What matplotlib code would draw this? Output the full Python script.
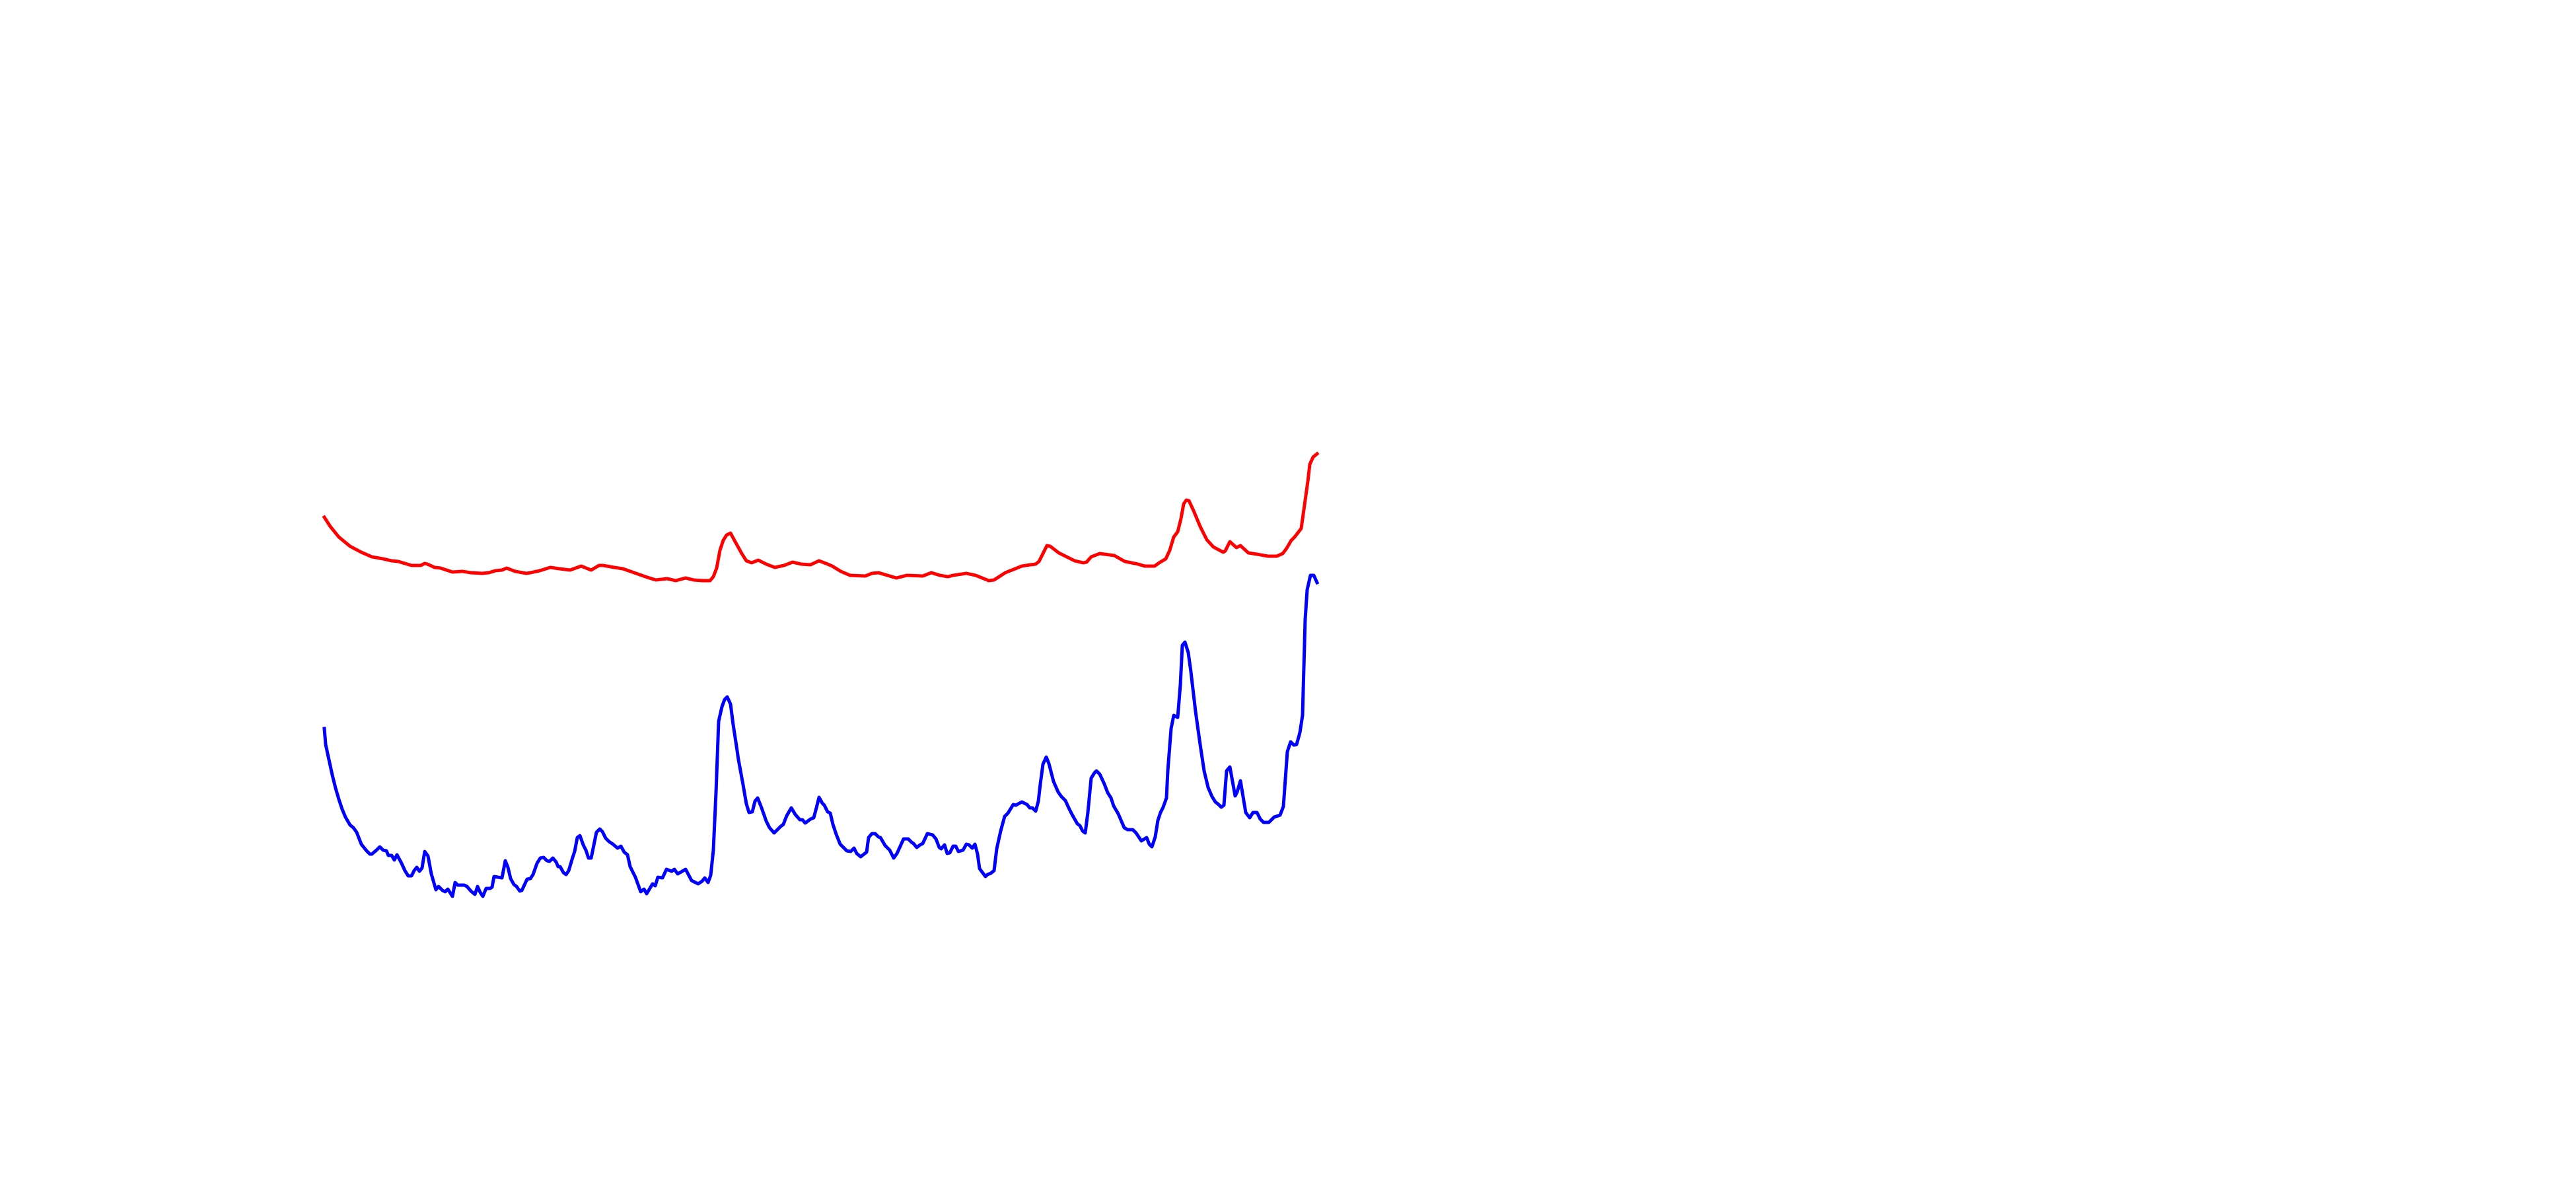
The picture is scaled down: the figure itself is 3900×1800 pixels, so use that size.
import matplotlib.pyplot as plt

# sample positions and values
red_x = [0, 9, 22, 39, 56, 72, 89, 102, 112, 132, 146, 152, 156, 167, 176, 194, 209, 222, 239, 249,
         259, 269, 276, 289, 306, 312, 326, 342, 356, 372, 389, 404, 416, 422, 439, 452, 472, 489, 502, 519,
         532, 547, 559, 572, 584, 589, 594, 599, 604, 609, 615, 622, 632, 639, 647, 657, 669, 682, 696, 709,
         722, 736, 749, 762, 769, 782, 796, 819, 829, 839, 866, 882, 906, 919, 932, 944, 952, 972, 986, 1006,
         1014, 1031, 1046, 1056, 1069, 1077, 1082, 1094, 1099, 1112, 1122, 1136, 1149, 1154, 1161, 1174, 1189, 1196, 1212, 1232,
         1242, 1257, 1264, 1274, 1280, 1286, 1292, 1297, 1301, 1305, 1309, 1316, 1326, 1336, 1346, 1361, 1364, 1371, 1381, 1387,
         1399, 1412, 1429, 1442, 1451, 1457, 1464, 1469, 1479, 1489, 1492, 1497, 1503]
red_y = [101.7, 100.3, 98.7, 97.3, 96.4, 95.7, 95.4, 95.1, 95.0, 94.4, 94.4, 94.7, 94.6, 94.1, 94.0, 93.4, 93.5, 93.3, 93.2, 93.3,
         93.6, 93.7, 94.0, 93.5, 93.2, 93.3, 93.6, 94.1, 93.9, 93.7, 94.3, 93.7, 94.4, 94.4, 94.1, 93.9, 93.2, 92.6, 92.2, 92.4,
         92.1, 92.5, 92.2, 92.1, 92.1, 92.7, 94.0, 96.7, 98.2, 99.0, 99.3, 98.0, 96.2, 95.1, 94.8, 95.2, 94.6, 94.1, 94.4, 94.9,
         94.6, 94.5, 95.1, 94.6, 94.3, 93.5, 92.9, 92.8, 93.2, 93.3, 92.5, 92.9, 92.8, 93.3, 92.9, 92.7, 92.9, 93.2, 92.9, 92.1,
         92.2, 93.3, 93.9, 94.3, 94.5, 94.6, 95.0, 97.4, 97.3, 96.3, 95.8, 95.1, 94.8, 94.9, 95.7, 96.2, 96.0, 95.9, 95.0, 94.6,
         94.3, 94.3, 94.8, 95.4, 96.7, 98.7, 99.5, 101.5, 103.7, 104.3, 104.2, 102.7, 100.3, 98.3, 97.2, 96.4, 96.6, 98.0, 97.1, 97.4,
         96.3, 96.1, 95.8, 95.8, 96.2, 97.0, 98.2, 98.7, 100.0, 107.1, 109.7, 110.8, 111.3]

blue_x = [0, 2, 7, 12, 17, 22, 27, 32, 39, 44, 49, 56, 64, 69, 72, 79, 84, 89, 94, 97,
          102, 106, 110, 117, 122, 127, 132, 136, 140, 144, 148, 152, 157, 162, 169, 173, 179, 183, 187, 194,
          198, 202, 212, 216, 222, 228, 232, 236, 240, 245, 251, 254, 257, 269, 274, 278, 282, 287, 291, 296,
          299, 307, 312, 316, 322, 327, 332, 337, 341, 346, 351, 354, 357, 362, 366, 370, 376, 379, 383, 387,
          392, 396, 400, 404, 412, 417, 421, 426, 431, 437, 444, 449, 454, 459, 463, 471, 479, 484, 488, 497,
          501, 505, 512, 518, 526, 530, 535, 547, 556, 566, 572, 576, 581, 585, 589, 593, 597, 602, 606, 610,
          615, 619, 623, 627, 634, 639, 643, 648, 652, 656, 662, 669, 674, 681, 691, 695, 700, 707, 713, 720,
          724, 728, 736, 741, 745, 749, 754, 757, 762, 766, 770, 775, 781, 791, 797, 802, 806, 812, 821, 824,
          829, 834, 839, 842, 849, 856, 862, 867, 877, 884, 889, 892, 897, 902, 906, 913, 921, 926, 931, 934,
          939, 943, 947, 952, 956, 960, 967, 972, 976, 981, 985, 989, 992, 1001, 1004, 1009, 1014, 1018, 1024, 1030,
          1035, 1043, 1047, 1056, 1064, 1068, 1072, 1077, 1081, 1084, 1088, 1093, 1097, 1104, 1111, 1116, 1122, 1127, 1132, 1140,
          1144, 1148, 1152, 1156, 1161, 1166, 1169, 1174, 1181, 1186, 1191, 1195, 1202, 1211, 1216, 1224, 1229, 1237, 1245, 1249,
          1253, 1258, 1262, 1266, 1270, 1275, 1277, 1282, 1286, 1292, 1296, 1299, 1303, 1308, 1312, 1319, 1326, 1332, 1338, 1344,
          1349, 1354, 1358, 1362, 1366, 1371, 1379, 1382, 1387, 1395, 1401, 1406, 1412, 1417, 1422, 1430, 1438, 1447, 1452, 1458,
          1463, 1468, 1472, 1477, 1481, 1485, 1488, 1493, 1498, 1503]
blue_y = [69.7, 67.3, 65.0, 62.7, 60.7, 59.0, 57.5, 56.3, 55.1, 54.7, 54.0, 52.2, 51.2, 50.7, 50.7, 51.3, 51.8, 51.3, 51.2, 50.5,
          50.5, 49.8, 50.6, 49.3, 48.2, 47.4, 47.4, 48.2, 48.7, 48.1, 48.6, 51.1, 50.4, 47.7, 45.3, 45.8, 45.2, 45.0, 45.4, 44.3,
          46.4, 46.0, 46.0, 45.8, 45.1, 44.6, 45.8, 44.9, 44.3, 45.5, 45.5, 45.7, 47.3, 47.1, 49.7, 48.7, 47.0, 46.1, 45.8, 45.1,
          45.2, 46.9, 47.0, 47.6, 49.3, 50.1, 50.2, 49.7, 49.6, 50.1, 49.5, 48.8, 48.8, 47.9, 47.6, 48.2, 50.2, 51.1, 53.2, 53.5,
          52.1, 51.3, 50.1, 50.1, 54.0, 54.5, 54.1, 53.1, 52.6, 52.2, 51.6, 51.9, 51.0, 50.6, 48.8, 47.2, 45.0, 45.4, 44.7, 46.2,
          45.9, 47.2, 47.1, 48.4, 48.1, 48.4, 47.7, 48.4, 46.7, 46.2, 46.6, 47.1, 46.4, 47.5, 51.3, 60.0, 70.8, 73.0, 74.1, 74.5,
          73.4, 70.3, 67.7, 65.0, 61.2, 58.3, 57.0, 57.1, 58.7, 59.2, 57.7, 55.7, 54.7, 53.9, 54.9, 55.2, 56.5, 57.7, 56.7, 55.9,
          55.9, 55.4, 56.0, 56.2, 57.7, 59.3, 58.4, 58.1, 57.1, 56.9, 55.2, 53.7, 52.2, 51.2, 51.1, 51.6, 50.8, 50.3, 51.0, 53.2,
          53.8, 53.8, 53.3, 53.2, 52.0, 51.3, 50.1, 50.8, 53.0, 53.0, 52.5, 52.3, 51.7, 52.1, 52.3, 53.8, 53.6, 53.0, 51.7, 51.5,
          52.1, 50.8, 50.9, 51.9, 51.9, 51.1, 51.3, 52.2, 52.1, 51.6, 52.2, 50.7, 48.5, 47.3, 47.6, 47.8, 48.2, 51.5, 54.2, 56.4,
          56.9, 58.2, 58.1, 58.6, 58.2, 57.7, 57.7, 57.2, 58.7, 61.3, 64.3, 65.4, 64.4, 61.7, 60.1, 59.4, 58.8, 57.7, 56.7, 55.3,
          55.0, 54.2, 53.9, 57.0, 62.2, 63.0, 63.3, 62.8, 61.3, 60.0, 59.2, 58.0, 56.8, 54.7, 54.4, 54.4, 53.9, 52.7, 53.2, 52.2,
          51.8, 53.3, 55.8, 57.0, 57.8, 59.2, 63.3, 69.7, 71.7, 71.4, 76.3, 82.3, 82.8, 81.2, 78.3, 72.3, 67.3, 63.3, 60.8, 59.4,
          58.6, 58.2, 57.8, 58.1, 63.3, 63.9, 59.5, 60.1, 61.8, 57.0, 56.2, 57.0, 57.0, 56.0, 55.5, 55.5, 56.3, 56.6, 57.9, 66.2,
          67.7, 67.2, 67.3, 69.1, 71.7, 86.2, 90.7, 92.9, 92.9, 91.8]


def main():
    fig = plt.figure(figsize=(39, 18), dpi=100)
    ax = fig.add_axes([0, 0, 1, 1])

    ax.plot(red_x, red_y, color='#ff0000', linewidth=3.6)
    ax.plot(blue_x, blue_y, color='#0000ff', linewidth=3.6)

    # plot area spans the whole canvas, no axes shown
    ax.set_xlim(-491, 3409)
    ax.set_ylim(0, 180)
    ax.axis('off')

    fig.savefig("out.png", dpi=100, facecolor='white')


if __name__ == "__main__":
    main()
